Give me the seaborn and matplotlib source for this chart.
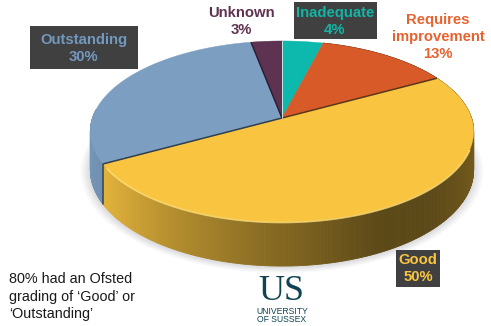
import numpy as np
import matplotlib
matplotlib.use("Agg")
import matplotlib.pyplot as plt
from matplotlib.collections import PolyCollection
from matplotlib.colors import to_rgb
from matplotlib.patches import Rectangle
import seaborn as sns

grades = ["Inadequate", "Requires\nimprovement", "Good", "Outstanding", "Unknown"]
shares = [4, 13, 50, 30, 3]
slice_colors = ["#0DB8AC", "#D95A29", "#F9C440", "#7C9EC1", "#5E3352"]
label_colors = ["#12B5A6", "#E8622F", "#F9C440", "#7398BF", "#5E3352"]
note_lines = ["80% had an Ofsted", "grading of ‘Good’ or", "‘Outstanding’"]

sns.set_theme(style="white")
plt.rcParams["font.family"] = ["Liberation Sans", "DejaVu Sans"]

W, H = 491, 326
fig = plt.figure(figsize=(W / 100, H / 100), dpi=100)
ax = fig.add_axes([0, 0, 1, 1])
ax.set_xlim(0, W)
ax.set_ylim(H, 0)
ax.axis("off")

# Tilted-disc projection of the pie
CX, CY, RX, RY, K = 282.0, 118.0, 189.5, 88.5, 0.149
WALL = 37.5


def project(theta, radius=1.0):
    u, v = radius * np.sin(theta), radius * np.cos(theta)
    d = 1 + K * v
    return CX + RX * u / d, CY - RY * v / d


def wall_depth(theta):
    return WALL / (1 + K * np.cos(theta))


def shade(color, theta):
    """Side-wall colour: lit on the left, darkest toward the lower right."""
    x = np.sin(theta)
    f = np.interp(x, [-1.0, -0.85, -0.5, -0.1, 0.45, 0.7, 1.0],
                  [0.95, 0.90, 0.72, 0.56, 0.37, 0.37, 0.47])
    return tuple(np.array(to_rgb(color)) * f)


edges = np.cumsum([0] + shares) / sum(shares) * 2 * np.pi

# Soft ground shadow under the disc
ring = np.linspace(0, 2 * np.pi, 240)
for grow, alpha in zip([1.05, 1.04, 1.03, 1.02, 1.01], [0.04, 0.045, 0.05, 0.055, 0.06]):
    sx, sy = project(ring)
    sy = sy + wall_depth(ring) + 1
    mx, my = CX, CY + 30
    ax.fill(mx + (sx - mx) * grow, my + (sy - my) * grow,
            color="#6f7480", alpha=alpha, lw=0, zorder=1)


def add_wall(lo, hi, color):
    t = np.linspace(lo, hi, int((hi - lo) * 90) + 2)
    quads, fills = [], []
    for a, b in zip(t[:-1], t[1:]):
        xa, ya = project(a)
        xb, yb = project(b)
        quads.append([(xa, ya), (xb, yb), (xb, yb + wall_depth(b)), (xa, ya + wall_depth(a))])
        fills.append(shade(color, (a + b) / 2))
    ax.add_collection(PolyCollection(quads, facecolors=fills, edgecolors=fills,
                                     linewidths=0.6, zorder=2))


# Side wall, built from thin strips so the shading runs along the rim
add_wall(edges[1], edges[2], slice_colors[1])
add_wall(edges[2], edges[3], slice_colors[2])
add_wall(edges[3], 3 * np.pi / 2 + 0.1, slice_colors[3])

# Top surface
for start, stop, color in zip(edges[:-1], edges[1:], slice_colors):
    t = np.linspace(start, stop, 120)
    x, y = project(t)
    ax.fill(np.r_[CX, x], np.r_[CY, y], color=color, lw=0.3, zorder=3)

# Lit rim along the front of the large slice
t = np.linspace(edges[2] + 0.1, edges[3] - 0.05, 160)
x, y = project(t)
ax.plot(x[40:], y[40:] + 0.5, color="#FFE07A", lw=1.2, alpha=0.8, zorder=4, solid_capstyle="round")

# Dark seams where slices part
for i, seam_color in [(2, "#5b3518"), (3, "#2f3f4e"), (4, "#2c2036")]:
    x, y = project(edges[i])
    ax.plot([CX, x], [CY, y], color=seam_color, lw=1.1, zorder=5, solid_capstyle="butt")
x, y = project(edges[3])
ax.plot([x, x], [y, y + wall_depth(edges[3])], color="#37475a", lw=1.1, zorder=5)
ax.plot([CX, CX], [CY, project(0.0)[1]], color="#dff5f2", lw=0.6, zorder=5)

# Slice labels: centre x, first-line y, optional dark plate (x0, y0, x1, y1)
label_spots = [
    (335, 13, (294, 2, 377, 39)),
    (438, 20, None),
    (418, 260, (396, 250, 440, 287)),
    (84, 40, (30, 26, 138, 69)),
    (241, 13, None),
]
LINE_GAP = 17
for name, val, col, (lx, ly, plate) in zip(grades, shares, label_colors, label_spots):
    if plate:
        x0, y0, x1, y1 = plate
        ax.add_patch(Rectangle((x0, y0), x1 - x0, y1 - y0, fc="#404040", ec="none", zorder=6))
    for j, line in enumerate(f"{name}\n{val}%".split("\n")):
        ax.text(lx, ly + j * LINE_GAP, line, color=col, fontsize=10.7, fontweight="bold",
                ha="center", va="center", zorder=7)

# Note at lower left
for i, line in enumerate(note_lines):
    ax.text(9, 279 + i * 17.5, line, color="#1a1a1a", fontsize=10.4, ha="left", va="center", zorder=7)

# University wordmark
ax.text(281, 291, "US", color="#0F4454", fontsize=26, family="Liberation Serif",
        ha="center", va="center", zorder=7)
ax.text(282, 311, "UNIVERSITY", color="#0F4454", fontsize=6.2, ha="center", va="center", zorder=7)
ax.text(282, 320, "OF SUSSEX", color="#0F4454", fontsize=6.2, ha="center", va="center", zorder=7)

fig.savefig("out.png", dpi=100)
